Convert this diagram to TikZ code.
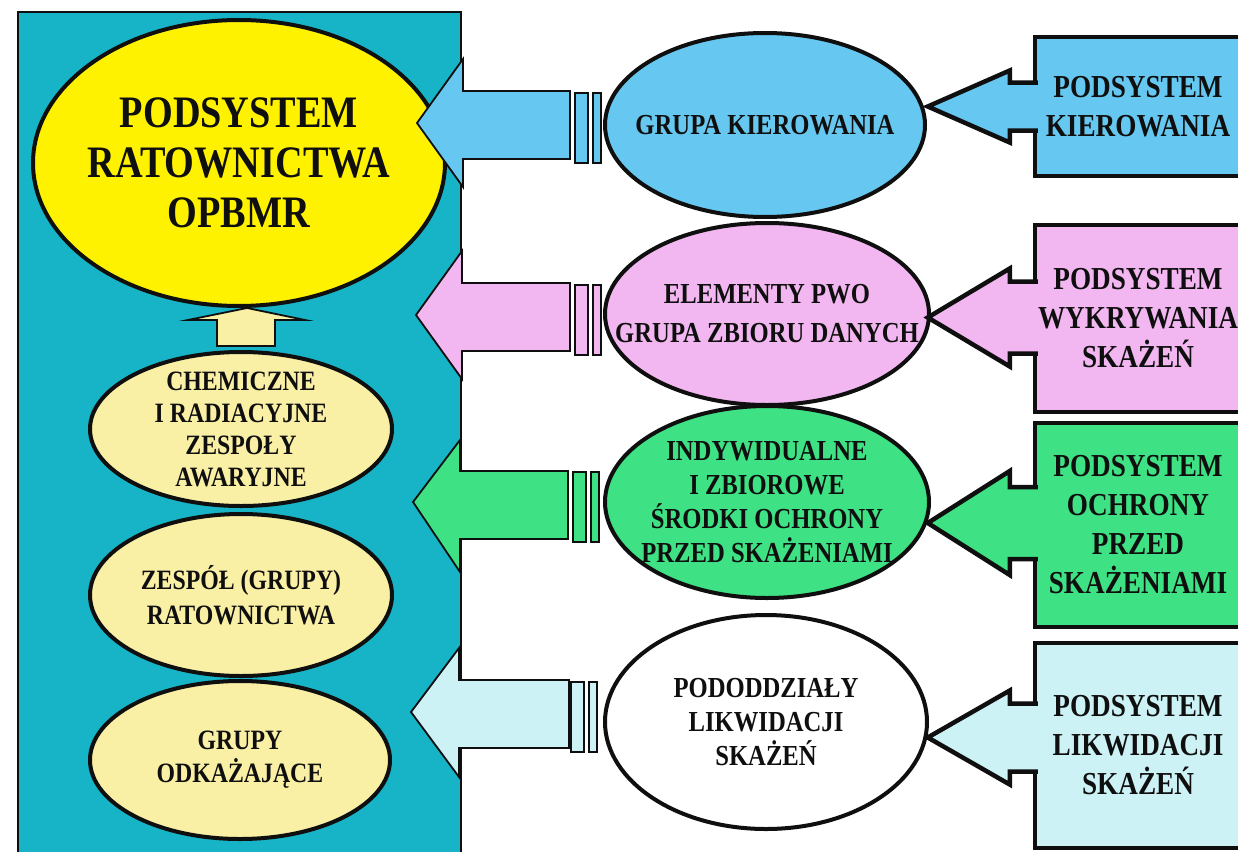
\documentclass[tikz,border=0pt]{standalone}
\usepackage{fontspec}
\setmainfont{Liberation Serif}[FakeStretch=0.85]
\usepackage{xcolor}
\usepackage{tikz}
\usetikzlibrary{shapes.geometric, positioning, calc}
\definecolor{panelteal}{RGB}{22,180,198}
\definecolor{bigyellow}{RGB}{255,242,0}
\definecolor{paleyellow}{RGB}{250,240,165}
\definecolor{kblue}{RGB}{102,200,240}
\definecolor{kpink}{RGB}{242,182,240}
\definecolor{kgreen}{RGB}{62,226,132}
\definecolor{kcyan}{RGB}{204,242,246}
\definecolor{ink}{RGB}{15,15,15}
\tikzstyle{oval} = [ellipse, draw=ink, line width=4pt, inner xsep=-60pt, inner ysep=-10pt, text=ink, align=center]
\tikzstyle{sysbox} = [rectangle, draw=ink, line width=4.5pt, inner sep=0pt, minimum width=206pt, text=ink, align=center, font=\bfseries\fontsize{32}{39}\selectfont]
\tikzstyle{fatarrow} = [draw=ink, line width=1.8pt, line join=miter]
\tikzstyle{bar} = [draw=ink, line width=1.5pt]
\tikzstyle{sysarrow} = [draw=ink, line width=4.5pt, line join=miter]

\begin{document}
\begin{tikzpicture}[x=1pt, y=-1pt]
    \useasboundingbox (0,0) rectangle (1238,851);
    \draw[draw=ink, line width=1.5pt, fill=panelteal] (18,12) rectangle (461,880);

    % left column
    \node (big)  [oval, fill=bigyellow,  minimum width=412pt, minimum height=286pt, font=\bfseries\fontsize{45}{50}\selectfont] at (239,163) {PODSYSTEM\\RATOWNICTWA\\OPBMR};
    \node (chem) [oval, fill=paleyellow, minimum width=302pt, minimum height=154pt, font=\bfseries\fontsize{28}{32}\selectfont] at (241,429) {CHEMICZNE\\I RADIACYJNE\\ZESPOŁY\\AWARYJNE};
    \node (zesp) [oval, fill=paleyellow, minimum width=302pt, minimum height=162pt, font=\bfseries\fontsize{28}{35}\selectfont] at (241,595) {ZESPÓŁ (GRUPY)\\RATOWNICTWA};
    \node (odk)  [oval, fill=paleyellow, minimum width=300pt, minimum height=158pt, font=\bfseries\fontsize{28}{33}\selectfont] at (240,760) {GRUPY\\ODKAŻAJĄCE};

    \draw[fatarrow, fill=paleyellow] ($(chem.north)+(-24,-4)$) -- ++(0,-26) -- ++(-29,0) -- ++(59,-12) -- ++(58,12) -- ++(-30,0) -- ++(0,26) -- cycle;

    % middle column
    \node (kier) [oval, fill=kblue,  minimum width=320pt, minimum height=184pt, font=\bfseries\fontsize{29}{36}\selectfont] at (765,125) {GRUPA KIEROWANIA};
    \node (elem) [oval, fill=kpink,  minimum width=324pt, minimum height=182pt, font=\bfseries\fontsize{29}{39}\selectfont] at (767,314) {ELEMENTY PWO\\GRUPA ZBIORU DANYCH};
    \node (indy) [oval, fill=kgreen, minimum width=324pt, minimum height=192pt, font=\bfseries\fontsize{29}{34}\selectfont] at (767,502) {INDYWIDUALNE\\I ZBIOROWE\\ŚRODKI OCHRONY\\PRZED SKAŻENIAMI};
    \node (podo) [oval, fill=white,  minimum width=322pt, minimum height=214pt, font=\bfseries\fontsize{29}{34}\selectfont] at (766,722) {PODODDZIAŁY\\LIKWIDACJI\\SKAŻEŃ};

    % fat arrows into the panel
    \draw[fatarrow, fill=kblue]  ($(kier.west)+(-186,-2)$) -- ++(46,-64) -- ++(0,32) -- ++(107,0) -- ++(0,68) -- ++(-107,0) -- ++(0,28) -- cycle;
    \draw[bar, fill=kblue]  ($(kier.west)+(-28,-32)$) rectangle ++(13,70);
    \draw[bar, fill=kblue]  ($(kier.west)+(-10,-32)$) rectangle ++(8,70);
    \draw[fatarrow, fill=kpink]  ($(elem.west)+(-187,1)$) -- ++(46,-64) -- ++(0,32) -- ++(108,0) -- ++(0,68) -- ++(-108,0) -- ++(0,28) -- cycle;
    \draw[bar, fill=kpink]  ($(elem.west)+(-28,-29)$) rectangle ++(13,70);
    \draw[bar, fill=kpink]  ($(elem.west)+(-10,-29)$) rectangle ++(8,70);
    \draw[fatarrow, fill=kgreen] ($(indy.west)+(-190,0)$) -- ++(47,-62) -- ++(0,31) -- ++(108,0) -- ++(0,68) -- ++(-108,0) -- ++(0,33) -- cycle;
    \draw[bar, fill=kgreen] ($(indy.west)+(-30,-30)$) rectangle ++(13,70);
    \draw[bar, fill=kgreen] ($(indy.west)+(-12,-30)$) rectangle ++(8,70);
    \draw[fatarrow, fill=kcyan]  ($(podo.west)+(-192,-10)$) -- ++(48,-64) -- ++(0,32) -- ++(110,0) -- ++(0,68) -- ++(-110,0) -- ++(0,29) -- cycle;
    \draw[bar, fill=kcyan]  ($(podo.west)+(-32,-40)$) rectangle ++(13,70);
    \draw[bar, fill=kcyan]  ($(podo.west)+(-14,-40)$) rectangle ++(8,70);

    % right column
    \node (ps1) [sysbox, fill=kblue,  minimum height=139pt] at (1138,106.5) {PODSYSTEM\\KIEROWANIA};
    \node (ps2) [sysbox, fill=kpink,  minimum height=187pt] at (1138,318.5) {PODSYSTEM\\WYKRYWANIA\\SKAŻEŃ};
    \node (ps3) [sysbox, fill=kgreen, minimum height=204pt] at (1138,525) {PODSYSTEM\\OCHRONY\\PRZED\\SKAŻENIAMI};
    \node (ps4) [sysbox, fill=kcyan,  minimum height=205pt] at (1138,745.5) {PODSYSTEM\\LIKWIDACJI\\SKAŻEŃ};

    \filldraw[sysarrow, fill=kblue]  ($(ps1.west)+(5,-24)$) -- ++(-28,0) -- ++(0,-12) -- ++(-82,36) -- ++(82,36) -- ++(0,-12) -- ++(28,0);
    \filldraw[sysarrow, fill=kpink]  ($(ps2.west)+(5,-37)$) -- ++(-28,0) -- ++(0,-13) -- ++(-82,49) -- ++(82,49) -- ++(0,-13) -- ++(28,0);
    \filldraw[sysarrow, fill=kgreen] ($(ps3.west)+(5,-38)$) -- ++(-28,0) -- ++(0,-16) -- ++(-82,52) -- ++(82,52) -- ++(0,-16) -- ++(28,0);
    \filldraw[sysarrow, fill=kcyan]  ($(ps4.west)+(5,-42)$) -- ++(-28,0) -- ++(0,-13) -- ++(-82,47) -- ++(82,47) -- ++(0,-13) -- ++(28,0);
\end{tikzpicture}
\end{document}
